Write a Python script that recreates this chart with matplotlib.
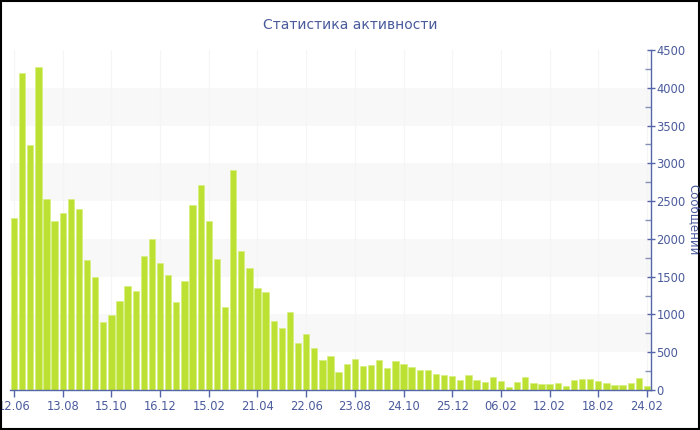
import matplotlib
matplotlib.use("Agg")
import matplotlib.pyplot as plt
from matplotlib.patches import Rectangle
from matplotlib.ticker import MultipleLocator

title = "Статистика активности"
y_label = "Сообщений"
tick_labels = ["12.06", "13.08", "15.10", "16.12", "15.02", "21.04", "22.06",
               "23.08", "24.10", "25.12", "06.02", "12.02", "18.02", "24.02"]
values = [2280, 4195, 3245, 4270, 2525, 2237, 2343, 2532, 2396, 1721,
          1496, 896, 988, 1178, 1381, 1310, 1778, 2003, 1685, 1526,
          1160, 1443, 2444, 2713, 2232, 1729, 1103, 2907, 1840, 1610,
          1346, 1302, 913, 821, 1037, 622, 746, 551, 397, 446,
          238, 340, 410, 322, 335, 393, 287, 384, 344, 300,
          265, 260, 216, 194, 181, 135, 199, 132, 106, 168,
          123, 44, 110, 168, 97, 75, 75, 93, 53, 132,
          146, 141, 119, 97, 66, 62, 88, 159, 57]
tick_step = 6
bands = [(500, 1000), (1500, 2000), (2500, 3000), (3500, 4000)]

text_color = "#4a5b9c"
axis_color = "#5566a8"
bar_color = "#bde132"

fig = plt.figure(figsize=(7, 4.3), dpi=100)
ax = fig.add_axes([10/700, 1 - 390/430, 641/700, 340/430])

n = len(values)
x = list(range(n))
for lo, hi in bands:
    ax.axhspan(lo, hi, color="#f8f8f8", zorder=0, lw=0)
tick_pos = x[::tick_step]
for tp in tick_pos:
    ax.axvline(tp, color="#f5f5f5", lw=0.8, zorder=0.5)

ax.bar(x, values, width=0.78, color=bar_color, edgecolor="#d6ee80",
       linewidth=0.5, zorder=2)

ax.set_xlim(-0.5, n - 0.5)
ax.set_ylim(0, 4500)
ax.set_xticks(tick_pos)
ax.set_xticklabels(tick_labels[:len(tick_pos)])

ax.yaxis.tick_right()
ax.yaxis.set_major_locator(MultipleLocator(500))
ax.yaxis.set_minor_locator(MultipleLocator(250))

for s in ["left", "top"]:
    ax.spines[s].set_visible(False)
ax.spines["right"].set_color(axis_color)
ax.spines["bottom"].set_color(axis_color)
ax.spines["right"].set_linewidth(1.0)
ax.spines["bottom"].set_linewidth(1.0)

ax.tick_params(axis="x", colors=axis_color, labelcolor=text_color,
               labelsize=8.3, length=5, width=1, direction="out", pad=2)
ax.tick_params(axis="y", which="major", colors=axis_color, labelcolor=text_color,
               labelsize=8.3, length=6, width=1, direction="inout", pad=1)
ax.tick_params(axis="y", which="minor", colors="#8890b8", length=4, width=1,
               direction="in")

fig.text(694/700, 1 - 220/430, y_label, rotation=270, ha="center", va="center",
         color=text_color, fontsize=8.5)

fig.text(0.5, 1 - 25/430, title, ha="center", va="center",
         color=text_color, fontsize=10)

fig.patches.append(Rectangle((0.0015, 0.002), 0.997, 0.996, transform=fig.transFigure,
                             fill=False, edgecolor="black", linewidth=1.5))

fig.savefig("out.png", dpi=100)
